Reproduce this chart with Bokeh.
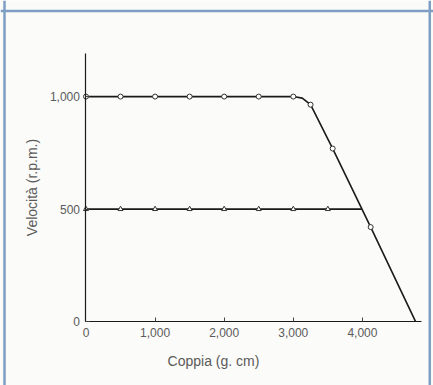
from bokeh.plotting import figure
from bokeh.models import LinearAxis, FixedTicker, NumeralTickFormatter, Range1d, Label, Span
from bokeh.embed import file_html
from bokeh.resources import INLINE

# --- data ---
upper_x = [0, 500, 1000, 1500, 2000, 2500, 3000, 3130, 3250, 3570, 4120, 4770]
upper_y = [1000, 1000, 1000, 1000, 1000, 1000, 1000, 993, 964, 769, 420, 0]
upper_mark_x = [0, 500, 1000, 1500, 2000, 2500, 3000, 3250, 3570, 4120]
upper_mark_y = [1000, 1000, 1000, 1000, 1000, 1000, 1000, 964, 769, 420]

lower_x = [0, 500, 1000, 1500, 2000, 2500, 3000, 3500, 3990]
lower_y = [500, 500, 500, 500, 500, 500, 500, 500, 500]
lower_mark_x = [0, 500, 1000, 1500, 2000, 2500, 3000, 3500]
lower_mark_y = [500, 500, 500, 500, 500, 500, 500, 500]

x_ticks = [0, 1000, 2000, 3000, 4000]
y_ticks = [0, 500, 1000]
x_title = "Coppia (g. cm)"
y_title = "Velocità (r.p.m.)"

BG = "#fbfbf9"
FRAME = "#7f9ec4"
INK = "#1a1a1a"
LABEL = "#5a5a5a"
FONT = "Liberation Sans"

W, H = 433, 385
p = figure(width=W, height=H, output_backend="svg", toolbar_location=None,
           x_range=Range1d(-1237, 5029), y_range=Range1d(-284, 1427),
           x_axis_type=None, y_axis_type=None,
           min_border=0, min_border_left=0, min_border_right=0,
           min_border_top=0, min_border_bottom=0)
p.background_fill_color = BG
p.border_fill_color = BG
p.outline_line_color = None
p.xgrid.visible = False
p.ygrid.visible = False

# blue scan frame
p.add_layout(Span(location=-1179, dimension="height", line_color=FRAME, line_width=2.5))
p.add_layout(Span(location=1380, dimension="width", line_color=FRAME, line_width=2.5))
p.add_layout(Span(location=4975, dimension="height", line_color=FRAME, line_width=2.5))

xaxis = LinearAxis(fixed_location=0, bounds=(0, 4860),
                   ticker=FixedTicker(ticks=x_ticks),
                   formatter=NumeralTickFormatter(format="0,0"))
yaxis = LinearAxis(fixed_location=0, bounds=(0, 1190),
                   ticker=FixedTicker(ticks=y_ticks),
                   formatter=NumeralTickFormatter(format="0,0"))
for ax in (xaxis, yaxis):
    ax.axis_line_color = INK
    ax.axis_line_width = 1.2
    ax.major_tick_in = 4
    ax.major_tick_out = 0
    ax.major_tick_line_color = "#444444"
    ax.minor_tick_line_color = None
    ax.major_label_text_font = FONT
    ax.major_label_text_font_size = "12px"
    ax.major_label_text_color = LABEL
xaxis.major_label_standoff = 6
yaxis.major_label_standoff = 6
yaxis.axis_label = y_title
yaxis.axis_label_text_font = FONT
yaxis.axis_label_text_font_size = "14px"
yaxis.axis_label_text_font_style = "normal"
yaxis.axis_label_text_color = LABEL
yaxis.axis_label_standoff = 6
p.add_layout(xaxis, "below")
p.add_layout(yaxis, "left")

p.add_layout(Label(x=1845, y=-173, text=x_title, text_align="center",
                   text_baseline="middle", text_font=FONT,
                   text_font_size="14px", text_color=LABEL))

p.line(lower_x, lower_y, line_color=INK, line_width=1.6)
p.line(upper_x, upper_y, line_color=INK, line_width=1.6)
p.scatter(lower_mark_x, lower_mark_y, marker="triangle", size=5,
          fill_color="white", line_color="#333333", line_width=1)
p.scatter(upper_mark_x, upper_mark_y, marker="circle", size=5,
          fill_color="white", line_color="#333333", line_width=1)

open("out.html", "w").write(file_html(p, INLINE))
